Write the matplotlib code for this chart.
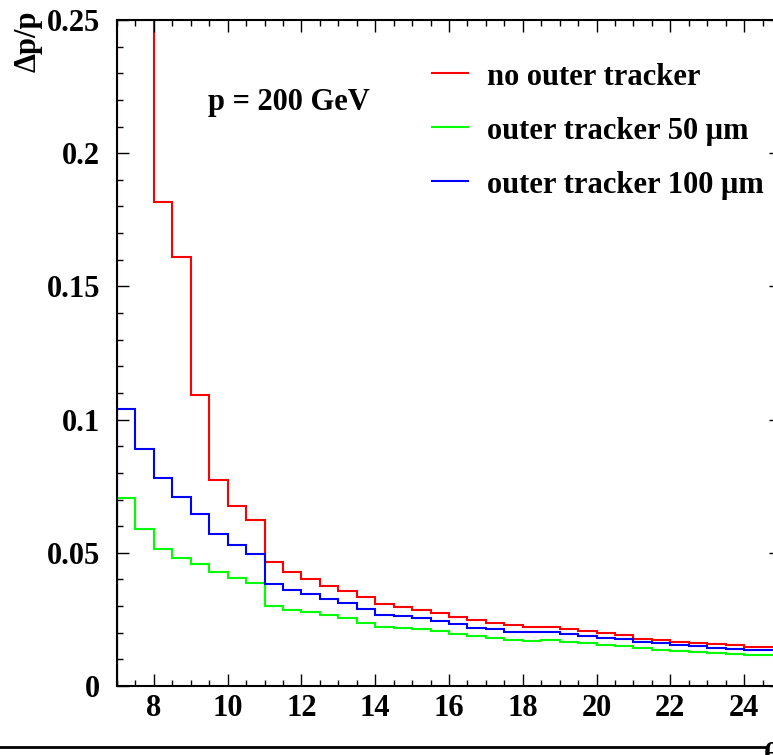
import matplotlib.pyplot as plt
from matplotlib.lines import Line2D
from matplotlib.ticker import MultipleLocator, FuncFormatter

plt.rcParams['font.family'] = ['Liberation Serif', 'DejaVu Serif']
plt.rcParams['font.weight'] = 'bold'

# bin edges (theta), 0.5 wide from 7 to 25
edges = [7 + 0.5 * i for i in range(37)]

# momentum resolution per bin (first two red bins run off the top of the frame)
no_outer = [0.25, 0.25, 0.1815, 0.161, 0.1092, 0.0774, 0.0676, 0.0623,
            0.0467, 0.0428, 0.0403, 0.0377, 0.0358, 0.0333, 0.0308, 0.0297,
            0.0284, 0.0275, 0.0260, 0.0246, 0.0236, 0.0229, 0.0221, 0.0223,
            0.0214, 0.0208, 0.0200, 0.0191, 0.0178, 0.0173, 0.0166, 0.0161,
            0.0156, 0.0153, 0.0148, 0.0146]
outer_50 = [0.0707, 0.0589, 0.0513, 0.0479, 0.0457, 0.0427, 0.0407, 0.0387,
            0.0299, 0.0285, 0.0279, 0.0265, 0.0254, 0.0238, 0.0221, 0.0219,
            0.0214, 0.0205, 0.0195, 0.0186, 0.0180, 0.0173, 0.0170, 0.0171,
            0.0165, 0.0160, 0.0155, 0.0150, 0.0141, 0.0136, 0.0133, 0.0128,
            0.0124, 0.0121, 0.0118, 0.0115]
outer_100 = [0.1039, 0.0890, 0.0780, 0.0708, 0.0646, 0.0571, 0.0529, 0.0495,
             0.0383, 0.0360, 0.0345, 0.0325, 0.0310, 0.0289, 0.0267, 0.0261,
             0.0254, 0.0243, 0.0231, 0.0219, 0.0213, 0.0204, 0.0203, 0.0201,
             0.0194, 0.0189, 0.0180, 0.0175, 0.0165, 0.0160, 0.0154, 0.0149,
             0.0144, 0.0140, 0.0135, 0.0135]

labels = ['no outer tracker', 'outer tracker 50 \u03bcm', 'outer tracker 100 \u03bcm']
colors = ['#ff0000', '#00ff00', '#0000ff']

FS = 22
W, H = 773, 755
fig = plt.figure(figsize=(W / 100, H / 100), dpi=100)
ax = fig.add_axes([117 / W, 1 - 686 / H, 664 / W, 666 / H])

for vals, c in zip([no_outer, outer_50, outer_100], colors):
    ax.stairs(vals, edges, baseline=0, color=c, linewidth=1.5)

ax.set_xlim(7, 25)
ax.set_ylim(0, 0.25)
ax.xaxis.set_major_locator(MultipleLocator(2))
ax.xaxis.set_minor_locator(MultipleLocator(0.5))
ax.yaxis.set_major_locator(MultipleLocator(0.05))
ax.yaxis.set_minor_locator(MultipleLocator(0.01))
ax.yaxis.set_major_formatter(FuncFormatter(lambda v, p: '%g' % round(v, 3)))
ax.tick_params(which='both', direction='in', top=True, right=True, width=1, labelsize=FS)
ax.tick_params(which='major', length=8.6)
ax.tick_params(which='minor', length=4.3)
ax.tick_params(axis='y', pad=12)
ax.tick_params(axis='x', pad=6)
for s in ax.spines.values():
    s.set_linewidth(1.5)

# legend, drawn by hand
for i, (lab, c) in enumerate(zip(labels, colors)):
    yl = 73 + 54 * i
    fig.add_artist(Line2D([432 / W, 468 / W], [1 - yl / H, 1 - yl / H], color=c, linewidth=1.5))
    fig.text(487 / W, 1 - (yl + 12) / H, lab, fontsize=FS, fontweight='bold', va='baseline')

fig.text(208 / W, 1 - 110 / H, 'p = 200 GeV', fontsize=FS, fontweight='bold', va='baseline')
fig.text(28 / W, 1 - 11 / H, '\u0394p/p', fontsize=FS, fontweight='bold', rotation=90,
         ha='center', va='top')

fig.add_artist(Line2D([0, 766 / W], [1 - 747 / H, 1 - 747 / H], color='black', linewidth=2))
fig.text(764 / W, 1 - 742 / H, '\u03b8', fontsize=FS, fontweight='bold', ha='left', va='top')

fig.savefig('out.png', dpi=100)
